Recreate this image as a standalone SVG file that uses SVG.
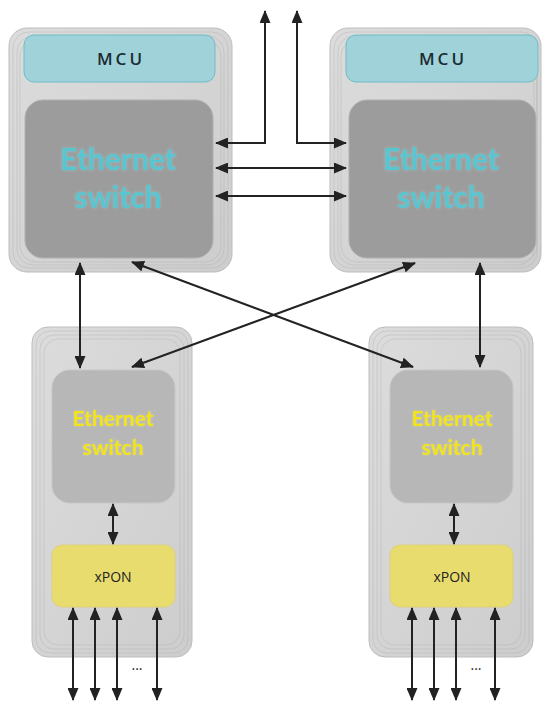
<svg xmlns="http://www.w3.org/2000/svg" width="547" height="702" viewBox="0 0 547 702">
<defs>
<style>
.outer{fill:url(#og);stroke:#bdbdbd;stroke-width:1}
.ring{fill:none;stroke:#a8a8a8;stroke-width:0.6;opacity:0.6}
.mcu{fill:#9fd3d9;stroke:#6fbcc6;stroke-width:1}
.sw1{fill:#9c9c9c;stroke:#b0b0b0;stroke-width:1}
.sw2{fill:#b7b7b7;stroke:#c6c6c6;stroke-width:1}
.xpon{fill:#e8dc6e;stroke:#ddd07a;stroke-width:1}
.t1{font-family:Lato,"Open Sans",sans-serif;font-weight:bold;font-size:30px;fill:#58c6d0;text-anchor:middle}
.t2{font-family:Lato,"Open Sans",sans-serif;font-weight:bold;font-size:21px;fill:#f2e412;text-anchor:middle}
.mt{font-family:"Open Sans",sans-serif;font-weight:600;font-size:17px;fill:#1d2b33;text-anchor:middle;letter-spacing:3px}
.xt{font-family:"Open Sans",sans-serif;font-size:14px;fill:#222;text-anchor:middle}
.c{fill:none;stroke:#222;stroke-width:2;marker-start:url(#ah);marker-end:url(#ah)}
</style>
<linearGradient id="og" x1="0" y1="0" x2="1" y2="1">
<stop offset="0" stop-color="#dcdcdc"/>
<stop offset="1" stop-color="#cdcdcd"/>
</linearGradient>
<marker id="ah" markerUnits="userSpaceOnUse" markerWidth="13" markerHeight="11" refX="12" refY="5.5" orient="auto-start-reverse">
<path d="M0,0 L13,5.5 L0,11 z" fill="#222"/>
</marker>
<filter id="glow" x="-20%" y="-30%" width="140%" height="160%">
<feGaussianBlur in="SourceAlpha" stdDeviation="1.6" result="b"/>
<feFlood flood-color="#a9dde2" flood-opacity="0.45" result="f"/>
<feComposite operator="in" in="f" in2="b" result="g"/>
<feMerge><feMergeNode in="g"/><feMergeNode in="SourceGraphic"/></feMerge>
</filter>
<filter id="glow2" x="-20%" y="-30%" width="140%" height="160%">
<feGaussianBlur in="SourceAlpha" stdDeviation="1.2" result="b"/>
<feFlood flood-color="#f3ec90" flood-opacity="0.4" result="f"/>
<feComposite operator="in" in="f" in2="b" result="g"/>
<feMerge><feMergeNode in="g"/><feMergeNode in="SourceGraphic"/></feMerge>
</filter>
</defs>
<rect width="547" height="702" fill="#fff"/>

<g id="top-left">
<rect class="outer" x="9" y="28" width="223" height="244" rx="18"/>
<rect class="ring" x="13" y="32" width="215" height="236" rx="16"/>
<rect class="ring" x="17" y="36" width="207" height="229" rx="16"/>
<rect class="ring" x="20" y="40" width="201" height="222" rx="16"/>
<rect class="mcu" x="24" y="35" width="191" height="47" rx="10"/>
<text class="mt" x="121" y="65">MCU</text>
<rect class="sw1" x="25" y="100" width="188" height="158" rx="18"/>
<g filter="url(#glow)">
<text class="t1" x="118" y="170">Ethernet</text>
<text class="t1" x="118" y="208">switch</text>
</g>
</g>

<g id="top-right">
<rect class="outer" x="330" y="28" width="211" height="244" rx="18"/>
<rect class="ring" x="334" y="32" width="203" height="236" rx="16"/>
<rect class="ring" x="338" y="36" width="196" height="229" rx="16"/>
<rect class="ring" x="341" y="40" width="196" height="222" rx="16"/>
<rect class="mcu" x="346" y="35" width="192" height="47" rx="10"/>
<text class="mt" x="443" y="65">MCU</text>
<rect class="sw1" x="349" y="100" width="187" height="158" rx="18"/>
<g filter="url(#glow)">
<text class="t1" x="441" y="170">Ethernet</text>
<text class="t1" x="441" y="208">switch</text>
</g>
</g>

<g id="bottom-left">
<rect class="outer" x="32" y="327" width="160" height="330" rx="16"/>
<rect class="ring" x="36" y="331" width="152" height="322" rx="14"/>
<rect class="ring" x="40" y="335" width="144" height="314" rx="14"/>
<rect class="ring" x="44" y="339" width="136" height="306" rx="14"/>
<rect class="sw2" x="52" y="370" width="123" height="133" rx="18"/>
<g filter="url(#glow2)">
<text class="t2" x="113" y="426">Ethernet</text>
<text class="t2" x="113" y="455">switch</text>
</g>
<rect class="xpon" x="52" y="545" width="123" height="62" rx="10"/>
<text class="xt" x="113" y="582">xPON</text>
</g>

<g id="bottom-right">
<rect class="outer" x="369" y="327" width="164" height="330" rx="16"/>
<rect class="ring" x="373" y="331" width="156" height="322" rx="14"/>
<rect class="ring" x="377" y="335" width="148" height="314" rx="14"/>
<rect class="ring" x="381" y="339" width="140" height="306" rx="14"/>
<rect class="sw2" x="390" y="370" width="123" height="133" rx="18"/>
<g filter="url(#glow2)">
<text class="t2" x="452" y="426">Ethernet</text>
<text class="t2" x="452" y="455">switch</text>
</g>
<rect class="xpon" x="390" y="545" width="123" height="62" rx="10"/>
<text class="xt" x="452" y="582">xPON</text>
</g>

<g id="connectors">
<path class="c" d="M216,143 H265 V11"/>
<path class="c" d="M346,143 H297 V11"/>
<path class="c" d="M216,168 H346"/>
<path class="c" d="M216,196 H346"/>
<path class="c" d="M80,263 V368"/>
<path class="c" d="M132,262 L413,367"/>
<path class="c" d="M415,263 L132,367"/>
<path class="c" d="M480,263 V367"/>
<path class="c" d="M113,504 V544"/>
<path class="c" d="M454,504 V544"/>
<path class="c" d="M73,608 V700"/>
<path class="c" d="M95,608 V700"/>
<path class="c" d="M117,608 V700"/>
<path class="c" d="M157,608 V700"/>
<path class="c" d="M412,608 V700"/>
<path class="c" d="M434,608 V700"/>
<path class="c" d="M456,608 V700"/>
<path class="c" d="M495,608 V700"/>
</g>
<text class="xt" x="137" y="670">...</text>
<text class="xt" x="476" y="670">...</text>
</svg>
